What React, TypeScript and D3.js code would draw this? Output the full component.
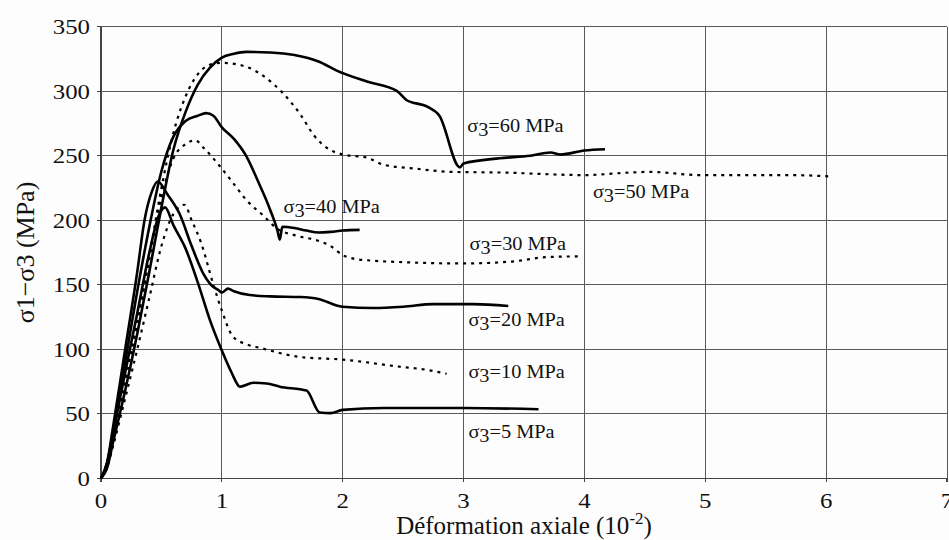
import React, { useEffect, useRef } from "react";
import * as d3 from "d3";

type Pt = [number, number];

const xTicks = [0, 1, 2, 3, 4, 5, 6, 7];
const yTicks = [0, 50, 100, 150, 200, 250, 300, 350];

// solid curves
const curve5: Pt[] = [[0, 0], [0.05, 12], [0.1, 35], [0.2, 82], [0.3, 128], [0.4, 175], [0.48, 204], [0.53, 210], [0.6, 196], [0.7, 178], [0.8, 152], [0.9, 123], [1.0, 99], [1.08, 82], [1.15, 71], [1.26, 74], [1.37, 73.5], [1.48, 71], [1.7, 68], [1.81, 51], [1.9, 50.5], [2.0, 53], [2.34, 54.5], [3.0, 54.5], [3.62, 53.5]];
const curve20: Pt[] = [[0, 0], [0.05, 12], [0.1, 40], [0.2, 100], [0.3, 160], [0.36, 200], [0.42, 222], [0.47, 230], [0.55, 220], [0.65, 205], [0.75, 180], [0.85, 158], [0.92, 149], [0.97, 146], [1.0, 144], [1.05, 147], [1.1, 145], [1.23, 142], [1.4, 141], [1.65, 140.5], [1.8, 139], [1.95, 134], [2.0, 133], [2.25, 132], [2.5, 133], [2.75, 135], [3.08, 135], [3.37, 133.5]];
const curve40: Pt[] = [[0, 0], [0.05, 10], [0.1, 35], [0.2, 90], [0.3, 145], [0.4, 195], [0.5, 238], [0.6, 265], [0.7, 277], [0.8, 281], [0.87, 283], [0.93, 281], [1.0, 272], [1.1, 263], [1.2, 250], [1.3, 230], [1.4, 208], [1.46, 192], [1.48, 185], [1.5, 195], [1.6, 194], [1.7, 192], [1.8, 190.5], [1.9, 191], [2.0, 192], [2.14, 192.5]];
const curve60: Pt[] = [[0, 0], [0.05, 8], [0.1, 28], [0.2, 68], [0.3, 112], [0.4, 160], [0.5, 210], [0.6, 255], [0.7, 284], [0.8, 305], [0.9, 318], [1.0, 326], [1.1, 329], [1.2, 330.5], [1.4, 330], [1.6, 328], [1.8, 323], [1.95, 316], [2.2, 307.5], [2.45, 300], [2.53, 293], [2.7, 288], [2.8, 281], [2.97, 241], [3.0, 244], [3.3, 248], [3.55, 250], [3.72, 252.5], [3.8, 251], [4.0, 254], [4.17, 255]];

// dotted curves
const curve10: Pt[] = [[0, 0], [0.05, 8], [0.1, 25], [0.2, 62], [0.3, 100], [0.4, 140], [0.5, 180], [0.6, 205], [0.69, 212], [0.75, 200], [0.83, 182], [0.93, 150], [1.0, 130], [1.09, 110], [1.2, 104], [1.32, 101], [1.65, 94], [2.0, 92], [2.47, 86.5], [2.7, 84], [2.86, 81]];
const curve30: Pt[] = [[0, 0], [0.05, 10], [0.1, 30], [0.2, 75], [0.3, 120], [0.4, 170], [0.5, 218], [0.6, 248], [0.7, 259], [0.78, 262], [0.85, 256], [1.0, 240], [1.1, 228], [1.2, 216], [1.35, 203], [1.45, 194], [1.62, 188], [1.8, 184], [1.9, 180], [2.0, 173], [2.1, 170], [2.2, 169], [2.5, 167.5], [3.0, 166.5], [3.4, 168], [3.7, 171.5], [3.96, 172]];
const curve50: Pt[] = [[0, 0], [0.05, 10], [0.1, 32], [0.2, 78], [0.3, 122], [0.4, 172], [0.5, 225], [0.6, 268], [0.7, 296], [0.8, 313], [0.9, 320.5], [1.0, 322], [1.2, 319], [1.37, 310], [1.51, 298], [1.65, 282], [1.76, 266], [1.87, 256], [2.0, 251], [2.2, 248.5], [2.34, 243], [2.6, 240], [2.9, 237.5], [3.3, 237], [4.0, 235], [4.38, 237], [4.54, 237.5], [4.96, 235], [5.7, 235], [6.03, 234]];

const solidCurves = [curve5, curve20, curve40, curve60];
const dottedCurves = [curve10, curve30, curve50];

// curve labels: confining pressure and where the label sits (data units)
const labelPressures = ["60", "50", "40", "30", "20", "10", "5"];
const labelAt: Pt[] = [[3.03, 268.7], [4.07, 217.3], [1.51, 205.7], [3.05, 177], [3.04, 118], [3.04, 78], [3.04, 31.5]];

const App = () => {
  const svgRef: any = useRef();

  useEffect(() => {
    const svg = d3.select(svgRef.current);
    svg.selectAll("*").remove();
    const width = 949;
    const height = 540;
    const margin = { top: 26.7, right: 2, bottom: 61.7, left: 101 };
    const font = "'Liberation Serif', 'Times New Roman', serif";
    const stretch = 1.13;

    const x = d3.scaleLinear().domain([0, 7]).range([margin.left, width - margin.right]);
    const y = d3.scaleLinear().domain([0, 350]).range([height - margin.bottom, margin.top]);

    svg.append("rect").attr("width", width).attr("height", height).attr("fill", "#fdfdfd");

    // grid
    const grid = svg.append("g").attr("stroke", "#5a5a5a").attr("stroke-width", 1).attr("shape-rendering", "crispEdges");
    grid.selectAll(".gx").data(xTicks.slice(1)).join("line")
      .attr("x1", (d) => x(d)).attr("x2", (d) => x(d))
      .attr("y1", y(0)).attr("y2", y(350) );
    grid.selectAll(".gy").data(yTicks.slice(1)).join("line")
      .attr("x1", x(0)).attr("x2", x(7))
      .attr("y1", (d) => y(d)).attr("y2", (d) => y(d));

    // axes
    const axes = svg.append("g").attr("stroke", "#444").attr("stroke-width", 1.2).attr("shape-rendering", "crispEdges");
    axes.append("line").attr("x1", x(0)).attr("x2", x(7)).attr("y1", y(0)).attr("y2", y(0));
    axes.append("line").attr("x1", x(0)).attr("x2", x(0)).attr("y1", y(0)).attr("y2", y(350));
    axes.selectAll(".tx").data(xTicks).join("line")
      .attr("x1", (d) => x(d)).attr("x2", (d) => x(d))
      .attr("y1", y(0)).attr("y2", y(0) + 4);
    axes.selectAll(".ty").data(yTicks).join("line")
      .attr("x1", x(0) - 4).attr("x2", x(0))
      .attr("y1", (d) => y(d)).attr("y2", (d) => y(d));

    // tick labels
    svg.append("g").selectAll("text").data(yTicks).join("text")
      .attr("transform", (d) => `translate(${x(0) - 11},${y(d) + 7.5}) scale(${stretch},1)`)
      .attr("text-anchor", "end")
      .attr("font-family", font).attr("font-size", 22).attr("fill", "#111")
      .text((d) => d);
    svg.append("g").selectAll("text").data(xTicks).join("text")
      .attr("transform", (d) => `translate(${x(d)},${y(0) + 30}) scale(${stretch},1)`)
      .attr("text-anchor", "middle")
      .attr("font-family", font).attr("font-size", 22).attr("fill", "#111")
      .text((d) => d);

    // axis titles
    const xt = svg.append("text")
      .attr("x", (x(0) + x(7)) / 2).attr("y", 534)
      .attr("text-anchor", "middle")
      .attr("font-family", font).attr("font-size", 25).attr("fill", "#111");
    xt.append("tspan").text("Déformation axiale (10");
    xt.append("tspan").attr("font-size", 17).attr("dy", -10).text("-2");
    xt.append("tspan").attr("dy", 10).text(")");

    svg.append("text")
      .attr("transform", `translate(34,${(y(0) + y(350)) / 2}) rotate(-90)`)
      .attr("text-anchor", "middle")
      .attr("font-family", font).attr("font-size", 26).attr("fill", "#111")
      .text("σ1−σ3 (MPa)");

    // curves
    const line = d3.line<Pt>().x((d) => x(d[0])).y((d) => y(d[1])).curve(d3.curveMonotoneX);
    svg.append("g").selectAll("path").data(solidCurves).join("path")
      .attr("d", line).attr("fill", "none").attr("stroke", "#000")
      .attr("stroke-width", 2.6).attr("stroke-linejoin", "round");
    svg.append("g").selectAll("path").data(dottedCurves).join("path")
      .attr("d", line).attr("fill", "none").attr("stroke", "#000")
      .attr("stroke-width", 2.2).attr("stroke-dasharray", "3,5");

    // curve labels
    const lab = svg.append("g").selectAll("text").data(labelPressures).join("text")
      .attr("transform", (_d, i) => `translate(${x(labelAt[i][0])},${y(labelAt[i][1])}) scale(${stretch},1)`)
      .attr("font-family", font).attr("font-size", 18).attr("fill", "#111");
    lab.append("tspan").text("σ");
    lab.append("tspan").attr("dy", 4).text("3");
    lab.append("tspan").attr("dy", -4).text((d) => `=${d} MPa`);
  }, []);

  return (
    <svg
      ref={svgRef}
      width={949}
      height={540}
      style={{ position: "absolute", left: 0, top: 0, display: "block" }}
    ></svg>
  );
};

export default App;
